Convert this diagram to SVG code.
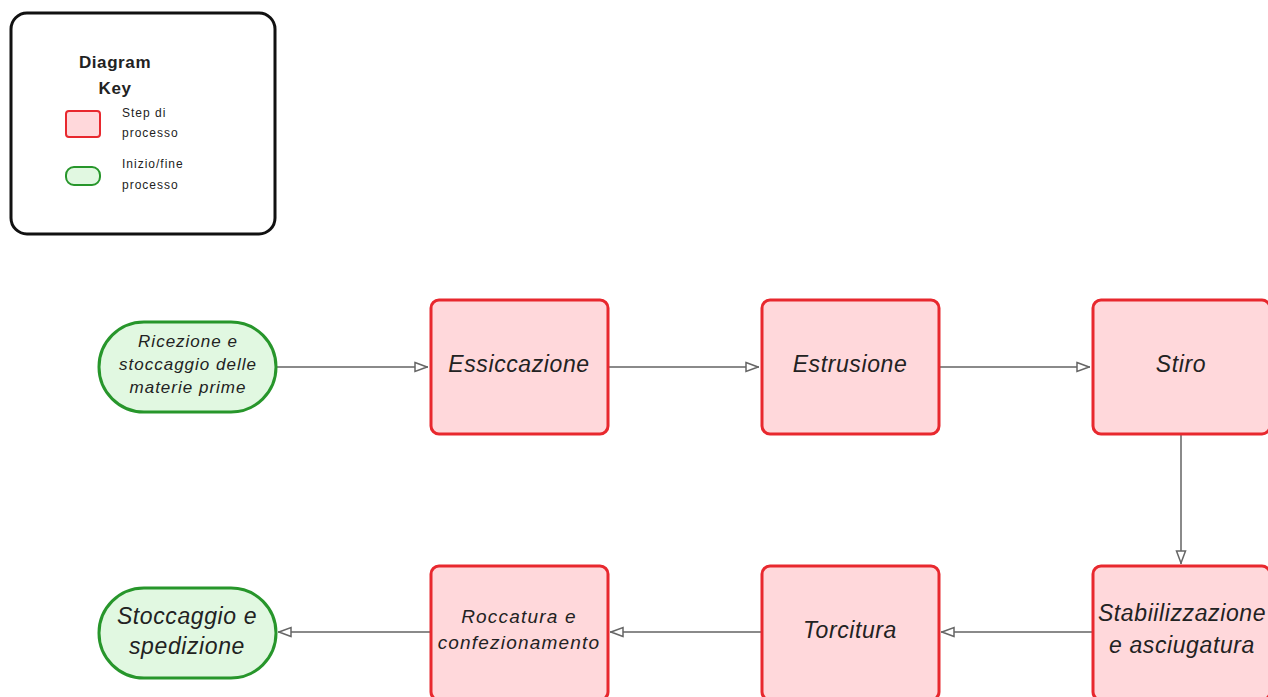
<svg xmlns="http://www.w3.org/2000/svg" width="1268" height="697" viewBox="0 0 1268 697">
  <style>
    .step { fill: #ffd8db; stroke: #e8282e; stroke-width: 3; }
    .term { fill: #e1f8e1; stroke: #27962b; stroke-width: 3; }
    .lbl { font-family: "Liberation Sans", Arial, sans-serif; font-style: italic; fill: #222; text-anchor: middle; }
    .big { font-size: 23px; letter-spacing: 0.6px; }
    .key { font-family: "Liberation Sans", Arial, sans-serif; fill: #222; }
    .small { font-size: 12px; letter-spacing: 1px; }
    .conn { stroke: #8a8a8a; stroke-width: 2; fill: none; marker-end: url(#tri); }
  </style>
  <defs>
    <marker id="tri" viewBox="0 0 14 12" refX="14" refY="6" markerWidth="14" markerHeight="12" markerUnits="userSpaceOnUse" orient="auto">
      <path d="M1,1.5 L13,6 L1,10.5 Z" fill="#fff" stroke="#666" stroke-width="1.5"/>
    </marker>
  </defs>
  <rect width="1268" height="697" fill="#fff"/>

  <!-- legend -->
  <g id="legend">
    <rect x="11" y="13" width="264" height="221" rx="16" fill="#fff" stroke="#111" stroke-width="3"/>
    <text class="key" x="115" y="68" font-size="17" font-weight="bold" letter-spacing="0.6" text-anchor="middle">Diagram</text>
    <text class="key" x="115" y="94" font-size="17" font-weight="bold" letter-spacing="0.6" text-anchor="middle">Key</text>
    <rect x="66" y="111" width="34" height="26" rx="3" fill="#ffd8db" stroke="#e8282e" stroke-width="2"/>
    <text class="key small" x="122" y="117">Step di</text>
    <text class="key small" x="122" y="137">processo</text>
    <rect x="66" y="167" width="34" height="18" rx="8" fill="#e1f8e1" stroke="#27962b" stroke-width="2"/>
    <text class="key small" x="122" y="168">Inizio/fine</text>
    <text class="key small" x="122" y="189">processo</text>
  </g>

  <!-- connectors -->
  <g id="connectors">
    <line class="conn" x1="276" y1="367" x2="428" y2="367"/>
    <line class="conn" x1="608" y1="367" x2="759" y2="367"/>
    <line class="conn" x1="939" y1="367" x2="1090" y2="367"/>
    <line class="conn" x1="1181" y1="434" x2="1181" y2="564"/>
    <line class="conn" x1="1092" y1="632" x2="941" y2="632"/>
    <line class="conn" x1="761" y1="632" x2="610" y2="632"/>
    <line class="conn" x1="430" y1="632" x2="278" y2="632"/>
  </g>

  <!-- nodes -->
  <g id="start">
    <rect class="term" x="99" y="322" width="177" height="90" rx="45"/>
    <text class="lbl" x="188" y="347" font-size="17" letter-spacing="1">Ricezione e</text>
    <text class="lbl" x="188" y="370" font-size="17" letter-spacing="1">stoccaggio delle</text>
    <text class="lbl" x="188" y="393" font-size="17" letter-spacing="1">materie prime</text>
  </g>
  <g id="essiccazione">
    <rect class="step" x="431" y="300" width="177" height="134" rx="8"/>
    <text class="lbl big" x="519" y="372">Essiccazione</text>
  </g>
  <g id="estrusione">
    <rect class="step" x="762" y="300" width="177" height="134" rx="8"/>
    <text class="lbl big" x="850" y="372">Estrusione</text>
  </g>
  <g id="stiro">
    <rect class="step" x="1093" y="300" width="177" height="134" rx="8"/>
    <text class="lbl big" x="1181" y="372">Stiro</text>
  </g>
  <g id="stabilizzazione">
    <rect class="step" x="1093" y="566" width="177" height="134" rx="8"/>
    <text class="lbl big" x="1182" y="621">Stabiilizzazione</text>
    <text class="lbl big" x="1182" y="653">e asciugatura</text>
  </g>
  <g id="torcitura">
    <rect class="step" x="762" y="566" width="177" height="134" rx="8"/>
    <text class="lbl big" x="850" y="638">Torcitura</text>
  </g>
  <g id="roccatura">
    <rect class="step" x="431" y="566" width="177" height="134" rx="8"/>
    <text class="lbl" x="519" y="623" font-size="19" letter-spacing="1.2">Roccatura e</text>
    <text class="lbl" x="519" y="649" font-size="19" letter-spacing="1.2">confezionamento</text>
  </g>
  <g id="end">
    <rect class="term" x="99" y="588" width="177" height="90" rx="45"/>
    <text class="lbl big" x="187" y="624">Stoccaggio e</text>
    <text class="lbl big" x="187" y="654">spedizione</text>
  </g>
</svg>
